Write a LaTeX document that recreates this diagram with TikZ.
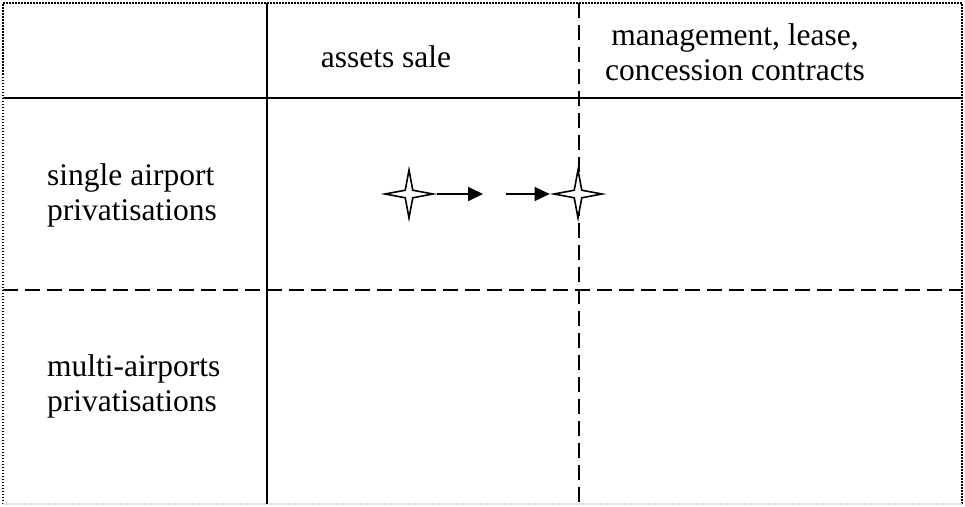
\documentclass[tikz,border=0pt]{standalone}
\usepackage{fontspec}
\setmainfont{Liberation Serif}
\usetikzlibrary{shapes.geometric,arrows.meta}
\begin{document}
\begin{tikzpicture}[x=1pt,y=-1pt,
  lbl/.style={font=\fontsize{31.5}{35}\selectfont, inner sep=0pt},
  solidline/.style={line width=2.2pt},
  dashline/.style={line width=2.2pt, dash pattern=on 15pt off 7pt},
  borderline/.style={line width=2pt, dash pattern=on 1.5pt off 1.5pt},
  starnode/.style={star, star points=4, star point ratio=4.5, minimum size=48pt,
    inner sep=0pt, draw, fill=white, line width=1.6pt},
  arr/.style={line width=1.8pt, -{Triangle[length=15pt,width=14pt]}}]
\useasboundingbox (0,0) rectangle (965,506);
% frame
\draw[borderline] (3,504) -- (3,3) -- (962,3) -- (962,504);
\draw[borderline, black!15] (3,504) -- (962,504);
% grid
\draw[solidline] (3,98) -- (962,98);
\draw[solidline] (267,3) -- (267,504);
\draw[dashline] (3,290) -- (962,290);
\draw[dashline] (579,3) -- (579,502);
% labels
\node[lbl, anchor=base] (colA) at (386,67) {assets sale};
\node[lbl, align=center] (colB) at (735,52) {management, lease,\\concession contracts};
\node[lbl, align=left, anchor=west] (rowA) at (47,195.5) {single airport\\privatisations};
\node[lbl, align=left, anchor=west] (rowB) at (47,386.5) {multi-airports\\privatisations};
% stars and arrows
\node[starnode] (s1) at (409,194) {};
\node[starnode] (s2) at (578,194) {};
\coordinate (a1) at (483,194);
\coordinate (a2) at (506,194);
\draw[arr] (s1.east) -- (a1);
\draw[arr] (a2) -- (s2.west);
\end{tikzpicture}
\end{document}
